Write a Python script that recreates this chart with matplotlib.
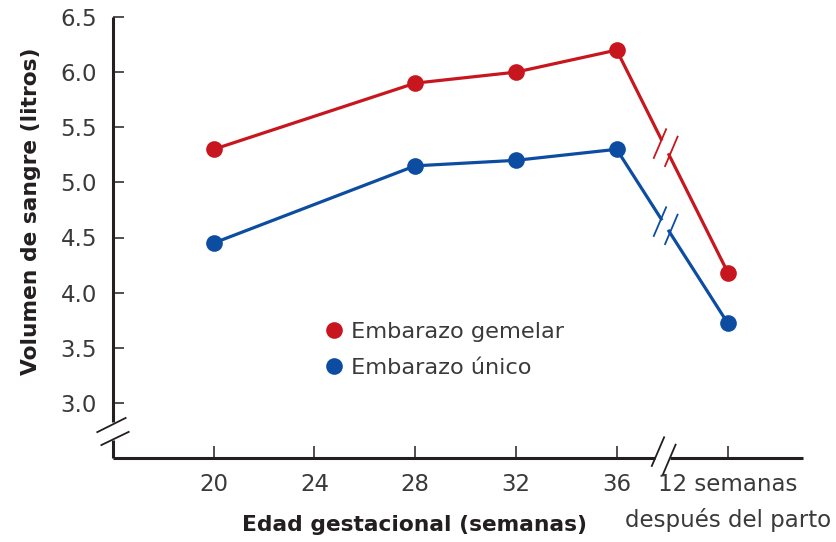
import numpy as np
import matplotlib
matplotlib.use("Agg")
import matplotlib.pyplot as plt
import matplotlib.transforms as mtransforms
from matplotlib.path import Path
from matplotlib.lines import Line2D

# data
weeks = [20, 28, 32, 36]
post_x = 40.42          # position of "12 semanas después del parto"
twins = [5.3, 5.9, 6.0, 6.2]
twins_post = 4.18
single = [4.45, 5.15, 5.2, 5.3]
single_post = 3.72
xticks = [20, 24, 28, 32, 36, post_x]
xticklabels = ["20", "24", "28", "32", "36", "12 semanas"]
post_label2 = "después del parto"
yticks = [3.0, 3.5, 4.0, 4.5, 5.0, 5.5, 6.0, 6.5]

red = "#c8161e"
blue = "#0c4da2"
dark = "#231f20"
txt = "#3a3a3a"

plt.rcParams['font.family'] = ['DejaVu Sans']

fig = plt.figure(figsize=(8.36, 5.42), dpi=100)
ax = fig.add_axes([113/836, 1-458/542, (803-113)/836, (458-17)/542])
ax.set_xlim(16, 43.4)
ax.set_ylim(2.5, 6.5)

# break markers "//"
slash_steep = Path([(-0.62, -0.58), (0.05, 0.98), (-0.04, -1), (0.64, 0.6)],
                   [Path.MOVETO, Path.LINETO, Path.MOVETO, Path.LINETO])
slash_flat = Path([(-1, -0.06), (0.76, 0.82), (-0.76, -0.82), (0.94, 0)],
                  [Path.MOVETO, Path.LINETO, Path.MOVETO, Path.LINETO])

lw = 2.3
t1, t2 = 0.40, 0.47
for vals, post, col in [(twins, twins_post, red), (single, single_post, blue)]:
    ax.plot(weeks, vals, color=col, lw=lw, zorder=3)
    x0, y0 = weeks[-1], vals[-1]
    xa, ya = x0 + t1*(post_x-x0), y0 + t1*(post-y0)
    xb, yb = x0 + t2*(post_x-x0), y0 + t2*(post-y0)
    ax.plot([x0, xa], [y0, ya], color=col, lw=lw, zorder=3)
    ax.plot([xb, post_x], [yb, post], color=col, lw=lw, zorder=3)
    xm, ym = (xa+xb)/2, (ya+yb)/2
    ax.plot([xm], [ym], marker=slash_steep, ms=28, mew=1.3, mec=col, mfc='none',
            linestyle='none', zorder=3)
    ax.plot(weeks + [post_x], vals + [post], 'o', color=col, ms=12, mec='none', zorder=4)

# axes lines with breaks
for s in ax.spines.values():
    s.set_visible(False)
xg1, xg2 = 37.53, 38.12
yg1, yg2 = 2.663, 2.827
kw = dict(color=dark, lw=2.2, clip_on=False, solid_capstyle='butt', zorder=2)
ax.plot([16, xg1], [2.5, 2.5], **kw)
ax.plot([xg2, 43.4], [2.5, 2.5], **kw)
ax.plot([16, 16], [2.5, yg1], **kw)
ax.plot([16, 16], [yg2, 6.5], **kw)
ax.plot([(xg1+xg2)/2], [2.525], marker=slash_steep, ms=28, mew=1.3, mec=dark,
        mfc='none', linestyle='none', clip_on=False)
ax.plot([16], [(yg1+yg2)/2], marker=slash_flat, ms=24.5, mew=1.3, mec=dark,
        mfc='none', linestyle='none', clip_on=False)

ax.set_xticks(xticks)
ax.set_xticklabels(xticklabels, fontsize=16.5, color=txt)
ax.set_yticks(yticks)
ax.set_yticklabels([f"{v:.1f}" for v in yticks], fontsize=16.5, color=txt)
ax.tick_params(axis='x', direction='in', length=9, width=1.1, color=dark, pad=11)
ax.tick_params(axis='y', direction='in', length=8, width=1.1, color=dark, pad=11.5)
trans = mtransforms.blended_transform_factory(ax.transData, ax.transAxes)
ax.text(post_x, -(527-458)/441, post_label2, transform=trans, ha='center',
        va='baseline', fontsize=16.5, color=txt)

ax.set_xlabel("Edad gestacional (semanas)", fontsize=15.7, fontweight='bold', color=dark)
ax.xaxis.set_label_coords((415-113)/690, -(515-458)/441)
ax.set_ylabel("Volumen de sangre (litros)", fontsize=15.7, fontweight='bold', color=dark)
ax.yaxis.set_label_coords(-(113-41)/690, (458-211)/441)

handles = [Line2D([], [], marker='o', color=red, ms=12, linestyle='none', mec='none'),
           Line2D([], [], marker='o', color=blue, ms=12, linestyle='none', mec='none')]
ax.legend(handles, ["Embarazo gemelar", "Embarazo único"], frameon=False,
          loc='upper left', bbox_to_anchor=((325-113)/690, (458-322)/441),
          fontsize=16.2, handlelength=0.8, handletextpad=0.35, labelspacing=0.72,
          borderaxespad=0, borderpad=0, labelcolor=txt)

fig.savefig("out.png", dpi=100)
